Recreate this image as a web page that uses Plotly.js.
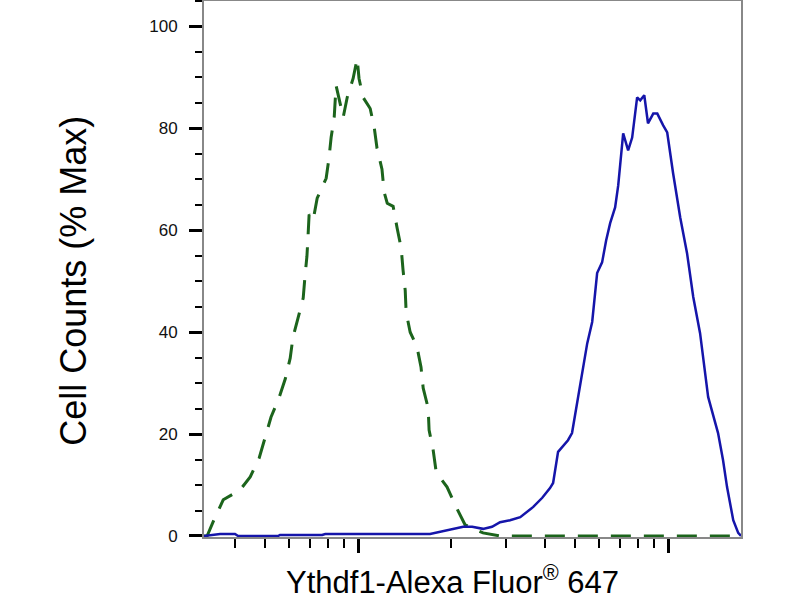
<!DOCTYPE html>
<html>
<head>
<meta charset="utf-8">
<script src="https://cdn.plot.ly/plotly-3.0.1.min.js"></script>
<style>
  html, body { margin: 0; padding: 0; background: #fff; }
  #chart { width: 800px; height: 600px; }
</style>
</head>
<body>
<div id="chart"></div>
<script>
// values; x in log10 of fluorescence intensity
const isotypeLogX = [2.503, 2.513, 2.532, 2.565, 2.619, 2.652, 2.681, 2.700, 2.719, 2.745, 2.765,
  2.781, 2.790, 2.806, 2.823, 2.829, 2.835, 2.839, 2.842, 2.855, 2.868, 2.897, 2.906, 2.913,
  2.923, 2.929, 2.942, 2.952, 2.965, 2.984, 2.997, 3.003, 3.016, 3.039, 3.052, 3.061, 3.077,
  3.084, 3.094, 3.113, 3.126, 3.139, 3.145, 3.152, 3.155, 3.168, 3.190, 3.203, 3.210, 3.226,
  3.229, 3.242, 3.252, 3.287, 3.316, 3.345, 3.403, 3.458, 3.800, 4.235];
const isotypeCounts = [0, 0, 2.7, 7.1, 9.0, 11.6, 15.3, 19.2, 23.3, 27.1, 30.8,
  34.9, 39.0, 42.7, 46.7, 51.2, 54.9, 59.4, 63.1, 62.0, 66.3, 70.2, 74.1, 78.2,
  82.2, 88.4, 84.5, 82.2, 86.1, 89.8, 93.7, 89.8, 86.1, 83.9, 80.2, 76.1, 72.0,
  67.5, 65.3, 64.7, 60.4, 56.5, 52.2, 48.2, 43.9, 40.0, 37.1, 33.1, 29.0, 25.1,
  20.8, 16.9, 12.5, 9.6, 5.7, 2.2, 0.6, 0, 0, 0];

const ythdf1LogX = [2.503, 2.539, 2.555, 2.603, 2.613, 2.742, 2.748, 2.884, 2.894, 3.232, 3.265,
  3.297, 3.339, 3.368, 3.403, 3.432, 3.458, 3.490, 3.523, 3.565, 3.594, 3.619, 3.629, 3.645,
  3.661, 3.677, 3.690, 3.703, 3.716, 3.729, 3.739, 3.755, 3.771, 3.787, 3.800, 3.813, 3.829,
  3.839, 3.845, 3.855, 3.871, 3.884, 3.900, 3.910, 3.923, 3.935, 3.952, 3.965, 3.984, 3.997,
  4.016, 4.039, 4.061, 4.081, 4.103, 4.129, 4.161, 4.177, 4.190, 4.210, 4.226, 4.235];
const ythdf1Counts = [0, 0.2, 0.4, 0.4, 0, 0, 0.2, 0.2, 0.4, 0.4, 0.8,
  1.2, 1.8, 1.8, 1.4, 1.8, 2.7, 3.1, 3.7, 5.7, 7.5, 9.4, 10.4, 16.5,
  17.6, 18.8, 20.2, 24.7, 30.0, 34.5, 37.8, 42.0, 51.6, 53.7, 58.0, 61.4, 64.5,
  68.8, 73.1, 79.0, 75.7, 78.2, 86.1, 85.5, 86.5, 81.0, 82.9, 82.9, 80.6, 79.2,
  71.2, 62.5, 55.5, 46.9, 39.8, 27.3, 20.2, 14.9, 9.6, 3.1, 0.6, 0];

const majorX = [1000, 10000];
const minorX = [400, 500, 600, 700, 800, 900, 2000, 3000, 4000, 5000, 6000, 7000, 8000, 9000];
const yTicks = [0, 20, 40, 60, 80, 100];

const toLinear = arr => arr.map(v => Math.pow(10, v));

const traces = [
  {
    x: toLinear(isotypeLogX),
    y: isotypeCounts,
    mode: 'lines',
    line: {color: '#1c641c', width: 3, dash: '20px,13px'},
    hoverinfo: 'skip',
  },
  {
    x: toLinear(ythdf1LogX),
    y: ythdf1Counts,
    mode: 'lines',
    line: {color: '#1515aa', width: 2.5},
    hoverinfo: 'skip',
  },
];

const layout = {
  width: 800,
  height: 600,
  margin: {l: 204, r: 59, t: 1, b: 63},
  paper_bgcolor: '#fff',
  plot_bgcolor: '#fff',
  showlegend: false,
  font: {family: 'Liberation Sans, Arial, sans-serif', color: '#111'},
  xaxis: {
    type: 'log',
    range: [2.503, 4.235],
    tickmode: 'array',
    tickvals: majorX,
    showticklabels: false,
    ticks: 'outside',
    ticklen: 14,
    tickwidth: 3,
    tickcolor: '#000',
    minor: {tickmode: 'array', tickvals: minorX, ticks: 'outside', ticklen: 9, tickwidth: 2, tickcolor: '#000'},
    showline: true,
    linecolor: '#888',
    linewidth: 2,
    mirror: true,
    showgrid: false,
    zeroline: false,
  },
  yaxis: {
    range: [-0.2, 105],
    tickmode: 'array',
    tickvals: yTicks,
    ticks: 'outside',
    ticklen: 13,
    tickwidth: 3,
    tickcolor: '#000',
    ticklabelstandoff: 8,
    tickfont: {size: 17, color: '#111'},
    minor: {dtick: 5, ticks: 'outside', ticklen: 7, tickwidth: 2, tickcolor: '#000'},
    showline: true,
    linecolor: '#888',
    linewidth: 2,
    mirror: true,
    showgrid: false,
    zeroline: false,
  },
  annotations: [
    {
      text: 'Ythdf1-Alexa Fluor<sup>®</sup> 647',
      xref: 'paper', yref: 'paper',
      x: 0.462, y: -0.08,
      xanchor: 'center', yanchor: 'middle',
      showarrow: false,
      font: {size: 31, color: '#000'},
    },
    {
      text: 'Cell Counts (% Max)',
      xref: 'paper', yref: 'paper',
      x: -0.242, y: 0.478,
      xanchor: 'center', yanchor: 'middle',
      textangle: -90,
      showarrow: false,
      font: {size: 36, color: '#000'},
    },
  ],
};

Plotly.newPlot('chart', traces, layout, {staticPlot: true, displayModeBar: false});
</script>
</body>
</html>
